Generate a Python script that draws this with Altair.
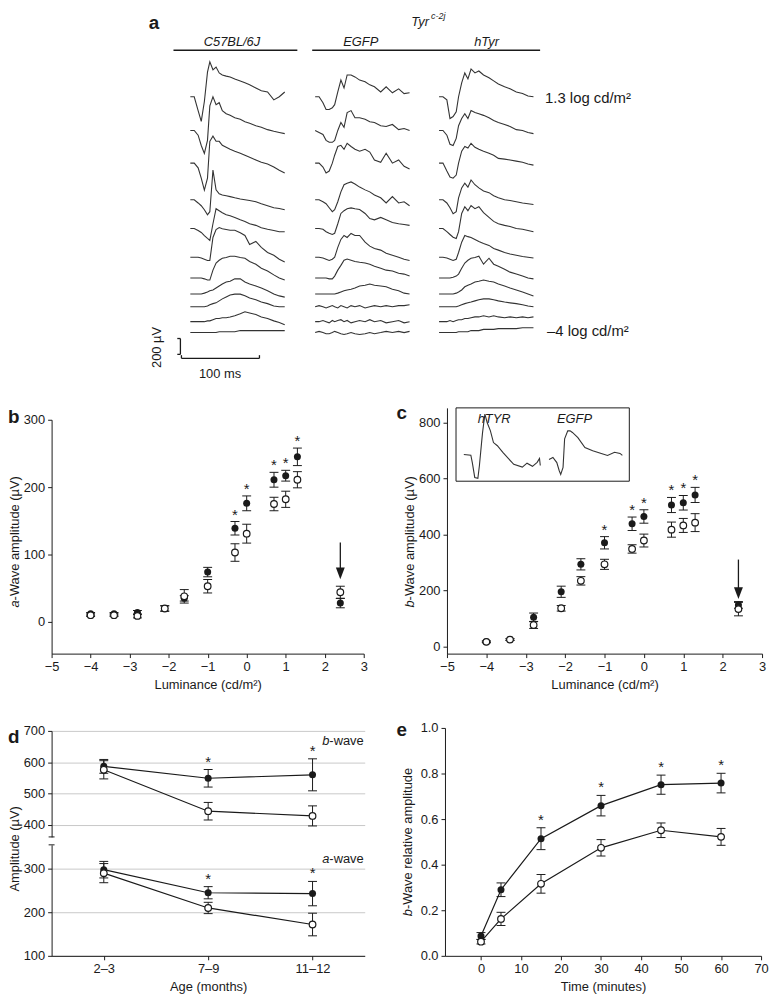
import altair as alt
import pandas as pd

FONT = "Liberation Sans"
INK = "#1a1a1a"

# ---------------- panel a: ERG traces (µV, read on a shared time grid in ms) ----------------
T_MS = [0, 5, 10, 14, 18, 22, 25, 29, 33, 37, 41, 46, 51, 57, 64, 70, 76, 84, 91, 99, 107, 114, 121]
STRAINS = ["C57BL/6J", "EGFP", "hTyr"]
FLASH_LOG = [1.3, 1, 0.7, 0, -0.3, -1, -1.6, -2.1, -2.8, -3.4, -4]
C57_UV = [
    [0, 0, -175, -310, -60, 310, 440, 340, 375, 300, 275, 260, 250, 225, 200, 175, 150, 110, 75, 60, -40, 0, 60],
    [0, 0, -60, -190, -290, -125, 310, 425, 325, 350, 250, 210, 190, 160, 140, 110, 90, 60, 40, 10, -10, -25, -40],
    [0, 0, -60, -190, -340, -190, 275, 340, 275, 275, 225, 200, 175, 150, 125, 100, 75, 40, 10, -10, -50, -90, -125],
    [0, 0, -40, -75, -125, -190, -150, 375, 125, 75, 60, 50, 40, 25, 10, 0, -10, -25, -50, -75, -100, -110, -125],
    [0, 0, -25, -50, -90, -125, -150, 60, 250, 225, 200, 175, 160, 140, 110, 90, 60, 40, 10, -10, -25, -40, -40],
    [0, 0, 0, -10, -25, -40, -40, 250, 350, 375, 360, 350, 340, 340, 310, 275, 160, 200, 125, 60, 25, -25, -60],
    [0, 0, 0, 0, -10, -25, -25, 100, 190, 225, 250, 260, 275, 275, 260, 250, 210, 175, 125, 90, 40, 0, -25],
    [0, 0, 0, 0, 10, 25, 40, 50, 75, 100, 125, 150, 160, 190, 190, 150, 125, 100, 75, 40, 0, -25, -40],
    [0, 0, 0, 0, 0, 10, 25, 40, 50, 75, 100, 125, 150, 160, 160, 140, 110, 90, 60, 40, 10, 0, 0],
    [0, 0, 0, 0, 0, 10, 10, 25, 40, 40, 50, 50, 60, 75, 100, 125, 110, 90, 60, 40, 10, -10, -40],
    [0, 0, 0, 0, 0, 0, 0, 0, 0, 10, 10, 10, 10, 10, 25, 25, 25, 25, 25, 25, 25, 25, 25],
]
EGFP_UV = [
    [0, 0, -75, -160, -160, -140, -100, 60, 210, 110, 275, 275, 250, 210, 190, 150, 125, 60, 125, 50, 100, 40, 50],
    [0, -25, -50, -125, -150, -150, -125, 0, 100, 40, 225, 250, 160, 160, 140, 110, 100, 60, 50, 75, 10, 25, 0],
    [0, 0, -50, -125, -100, 0, 100, 210, 225, 175, 250, 210, 175, 150, 175, 140, 40, 10, 125, 0, 40, -40, -75],
    [0, 0, -25, -50, -100, -150, -125, -25, 100, 190, 210, 225, 200, 160, 125, 100, 60, 25, -40, 40, -40, -25, -75],
    [0, 0, -10, -40, -60, -75, -60, 60, 190, 225, 250, 260, 250, 240, 190, 125, 110, 140, 110, 75, 60, 50, 40],
    [0, 0, -10, -25, -40, -25, 0, 125, 225, 275, 250, 300, 275, 275, 190, 140, 110, 90, 50, 25, 0, -25, -40],
    [0, 0, 0, 0, -10, -10, 25, 100, 160, 225, 240, 225, 210, 200, 190, 175, 150, 125, 100, 90, 60, 50, 25],
    [0, 0, 0, 0, 0, 0, 0, 10, 25, 40, 50, 60, 75, 100, 110, 125, 110, 100, 90, 60, 40, 10, 0],
    [0, 15, 0, -15, 0, 15, 0, -15, 15, 0, -15, 15, 0, 15, -15, 0, 15, 0, 15, 0, 15, 15, 25],
    [0, 0, 15, 0, -15, 15, 0, 15, 25, 0, 15, -15, 0, 15, 0, 25, 0, 15, -15, 0, 15, -15, 0],
    [0, 15, 0, -15, -15, 0, 15, 0, -15, -25, -15, 0, -15, -25, -15, 0, -15, 0, 15, 0, 15, 0, 15],
]
HTYR_UV = [
    [0, 0, -40, -275, -250, -190, 0, 175, 300, 225, 350, 300, 325, 275, 240, 200, 160, 125, 100, 60, 40, 10, 0],
    [0, 0, -60, -175, -190, -100, 60, 150, 210, 150, 250, 225, 210, 190, 160, 125, 100, 75, 50, 10, 0, -25, -40],
    [0, 0, -100, -175, -190, -150, 0, 150, 210, 190, 250, 200, 175, 150, 125, 100, 60, 50, 40, 25, 10, -10, -25],
    [0, 0, -40, -100, -175, -150, 25, 150, 210, 160, 250, 190, 150, 110, 90, 50, 25, 0, -10, -25, -40, -50, -60],
    [0, 0, -40, -75, -110, -125, -40, 190, 275, 225, 290, 250, 275, 200, 140, 90, 60, 40, 25, 0, -10, -25, -40],
    [0, 0, -10, -25, -40, -25, 60, 190, 275, 260, 250, 225, 200, 175, 150, 110, 90, 60, 40, 25, 10, 0, -10],
    [0, 0, 0, 0, 10, 25, 50, 125, 190, 225, 250, 260, 275, 175, 250, 175, 150, 110, 75, 50, 25, 0, -10],
    [0, 0, 0, 0, 0, 10, 25, 50, 90, 110, 125, 150, 160, 175, 160, 150, 125, 100, 75, 50, 25, 0, -25],
    [0, 0, 0, 0, 0, 0, 10, 25, 40, 50, 60, 75, 90, 100, 100, 90, 75, 60, 50, 40, 25, 10, 0],
    [0, 0, 0, 15, 0, 15, 25, 25, 40, 40, 50, 60, 60, 75, 60, 75, 60, 50, 60, 50, 60, 50, 60],
    [0, 0, 0, 0, 0, 0, 10, 10, 10, 10, 25, 25, 25, 40, 40, 40, 50, 50, 50, 50, 60, 60, 60],
]
SCALEBAR_UV = 200
SCALEBAR_MS = 100

# ---------------- panel b / c: luminance response ----------------
LUM = [-4, -3.4, -2.8, -2.1, -1.6, -1, -0.3, 0, 0.7, 1, 1.3, 2.4]
AW_HTYR = [12, 12, 14, 20, 35, 74, 139, 176, 211, 217, 245, 28]
AW_HTYR_SEM = [2, 2, 3, 4, 4, 7, 10, 11, 11, 8, 13, 7]
AW_EGFP = [10, 10, 9, 20, 38, 53, 103, 131, 175, 182, 211, 44]
AW_EGFP_SEM = [2, 2, 3, 4, 10, 10, 13, 14, 10, 12, 12, 9]
AW_SIG = [False, False, False, False, False, False, True, True, True, True, True, False]

BW_HTYR = [17, 25, 105, 196, 294, 371, 439, 465, 506, 514, 542, 149]
BW_HTYR_SEM = [3, 3, 15, 20, 20, 22, 24, 24, 27, 26, 27, 12]
BW_EGFP = [17, 25, 77, 137, 235, 294, 349, 379, 418, 433, 443, 134]
BW_EGFP_SEM = [3, 3, 12, 10, 15, 18, 15, 23, 27, 25, 32, 24]
BW_SIG = [False, False, False, False, False, True, True, True, True, True, True, False]

# inset traces in panel c (ms, µV)
INSET_HTYR_T = [0, 9, 11, 14, 18, 20, 23, 24, 27, 30, 34, 38, 43, 50, 57, 64, 75, 81, 88, 94, 97, 98]
INSET_HTYR_UV = [0, -10, -110, -290, -300, -140, 175, 275, 510, 400, 300, 150, 110, 25, -50, -125, -160, -110, -150, -100, -50, -140]
INSET_EGFP_T = [0, 5, 10, 13, 15, 18, 20, 24, 27, 30, 37, 46, 56, 67, 75, 84, 91, 94]
INSET_EGFP_UV = [0, 25, -40, -140, -190, -100, 260, 360, 360, 340, 275, 150, 110, 75, 50, 90, 75, 50]

# ---------------- panel d: age ----------------
AGE = ["2–3", "7–9", "11–12"]
DB_HTYR = [587, 549, 560]
DB_HTYR_SEM = [22, 28, 51]
DB_EGFP = [576, 444, 429]
DB_EGFP_SEM = [29, 28, 32]
DA_HTYR = [298, 245, 243]
DA_HTYR_SEM = [19, 14, 28]
DA_EGFP = [290, 210, 172]
DA_EGFP_SEM = [22, 13, 26]
D_SIG = [False, True, True]

# ---------------- panel e: recovery ----------------
TIME = [0, 5, 15, 30, 45, 60]
E_HTYR = [0.087, 0.29, 0.514, 0.659, 0.751, 0.758]
E_HTYR_SEM = [0.015, 0.03, 0.048, 0.045, 0.042, 0.043]
E_EGFP = [0.062, 0.162, 0.316, 0.474, 0.551, 0.522]
E_EGFP_SEM = [0.01, 0.029, 0.041, 0.036, 0.032, 0.037]
E_SIG = [False, False, True, True, True, True]

# ================= layout constants =================
A_W, A_H = 717, 399
MS_PX, UV_PX = 1.27, 12.5
COL_START_MS = [177.8, 337.8, 496.6]
ROW_BASE_UV = [-1062.5, -1487.5, -1900, -2362.5, -2725, -3087.5, -3350, -3550, -3712.5, -3900, -4037.5]
B_W, B_H = 315, 236
C_W, C_H = 318, 248
D_W, D_UH, D_LH = 316, 107, 112
E_W, E_H = 319, 230

ONE = pd.DataFrame({"k": [0]})


def txt(text, x, y, size=13, **kw):
    return alt.Chart(ONE).mark_text(text=text, fontSize=size, font=FONT, color=INK, **kw).encode(
        x=alt.value(x), y=alt.value(y))


def stat_df(xs, m1, s1, m2, s2, sig, xname="x"):
    rows = []
    for i, xv in enumerate(xs):
        rows.append({xname: xv, "m": m1[i], "s": s1[i], "g": "hTyr", "sig": bool(sig[i]), "idx": i})
        rows.append({xname: xv, "m": m2[i], "s": s2[i], "g": "EGFP", "sig": False, "idx": i})
    df = pd.DataFrame(rows)
    df["lo"] = df["m"] - df["s"]
    df["hi"] = df["m"] + df["s"]
    return df


def stat_layers(df, X, Y, lines=False, star_dy=-7):
    base = alt.Chart(df)
    out = []
    if lines:
        out.append(base.mark_line(color=INK, strokeWidth=1.2).encode(x=X, y=Y("m"), detail="g:N", order="idx:Q"))
    out.append(base.mark_rule(color=INK, strokeWidth=1).encode(x=X, y=Y("lo"), y2="hi:Q"))
    for f in ("lo", "hi"):
        out.append(base.mark_tick(orient="horizontal", size=9, thickness=1, color=INK, opacity=1).encode(x=X, y=Y(f)))
    out.append(base.transform_filter("datum.g == 'hTyr'").mark_point(
        shape="circle", filled=True, color=INK, size=50, opacity=1).encode(x=X, y=Y("m")))
    out.append(base.transform_filter("datum.g == 'EGFP'").mark_point(
        shape="circle", filled=True, fill="white", stroke=INK, strokeWidth=1.2, size=45, opacity=1).encode(x=X, y=Y("m")))
    out.append(base.transform_filter("datum.sig").mark_text(
        text="*", fontSize=15, dy=star_dy, baseline="middle", color=INK, font=FONT).encode(x=X, y=Y("hi")))
    return out


def rot_title(first, rest, x, y_start, w_first, italic_first=True):
    return [
        txt(first, x, y_start, angle=270, align="left", baseline="middle", fontStyle="italic" if italic_first else "normal"),
        txt(rest, x, y_start - w_first, angle=270, align="left", baseline="middle"),
    ]


TRI = "M-0.75,-1L0.75,-1L0,1Z"

# ================= panel a =================
rows = []
for ci, col in enumerate([C57_UV, EGFP_UV, HTYR_UV]):
    for ri, tr in enumerate(col):
        for i, (t, v) in enumerate(zip(T_MS, tr)):
            rows.append({"trace": f"{STRAINS[ci]} {FLASH_LOG[ri]}", "i": i,
                         "t": COL_START_MS[ci] + t, "v": ROW_BASE_UV[ri] + v})
traces = pd.DataFrame(rows)
ax = alt.X("t:Q", scale=alt.Scale(domain=[0, A_W * MS_PX], nice=False, zero=False), axis=None)
ay = alt.Y("v:Q", scale=alt.Scale(domain=[-A_H * UV_PX, 0], nice=False, zero=False), axis=None)
a_lines = alt.Chart(traces).mark_line(color="#333333", strokeWidth=1.1).encode(
    x=ax, y=ay, detail="trace:N", order="i:Q")

SB_T, SB_V = 165.1, -4112.5   # anchor of scale bar (ms, µV)
SB_H_T, SB_H_V = 166.4, -4362.5
sbar = pd.DataFrame({
    "t": [SB_T, SB_H_T, SB_T - 4, SB_T - 4, SB_H_T, SB_H_T + SCALEBAR_MS],
    "t2": [SB_T, SB_H_T + SCALEBAR_MS, SB_T, SB_T, SB_H_T, SB_H_T + SCALEBAR_MS],
    "v": [SB_V, SB_H_V, SB_V, SB_V - SCALEBAR_UV, SB_H_V, SB_H_V],
    "v2": [SB_V - SCALEBAR_UV, SB_H_V, SB_V, SB_V - SCALEBAR_UV, SB_H_V + 40, SB_H_V + 40],
})
a_bar = alt.Chart(sbar).mark_rule(color=INK, strokeWidth=1.3).encode(x=ax, x2="t2:Q", y=ay, y2="v2:Q")

a_under1 = alt.Chart(ONE).mark_rule(color=INK, strokeWidth=1.5).encode(
    x=alt.value(123), x2=alt.value(248), y=alt.value(38))
a_under2 = alt.Chart(ONE).mark_rule(color=INK, strokeWidth=1.5).encode(
    x=alt.value(263), x2=alt.value(493), y=alt.value(38))

panel_a = alt.layer(
    a_lines, a_bar, a_under1, a_under2,
    txt("a", 98, 17, size=19, fontWeight="bold", align="left", baseline="alphabetic"),
    txt("C57BL/6J", 182, 34, fontStyle="italic", baseline="alphabetic"),
    txt("EGFP", 312, 34, fontStyle="italic", baseline="alphabetic"),
    txt("hTyr", 439, 34, fontStyle="italic", baseline="alphabetic"),
    txt("Tyr", 363, 14, fontStyle="italic", align="left", baseline="alphabetic"),
    txt("c-2j", 383, 7, size=9, fontStyle="italic", align="left", baseline="alphabetic"),
    txt("1.3 log cd/m²", 498, 91, size=15, align="left", baseline="alphabetic"),
    txt("–4 log cd/m²", 500, 326, size=15, align="left", baseline="alphabetic"),
    txt("200 µV", 106, 338, size=13, angle=270, baseline="middle"),
    txt("100 ms", 170, 369, size=13, baseline="alphabetic"),
).properties(width=A_W, height=A_H)

# ================= panel b =================
bdf = stat_df(LUM, AW_HTYR, AW_HTYR_SEM, AW_EGFP, AW_EGFP_SEM, AW_SIG)
BX = alt.X("x:Q", scale=alt.Scale(domain=[-5, 3], nice=False, zero=False),
           axis=alt.Axis(values=list(range(-5, 4)), title="Luminance (cd/m²)", titlePadding=5,
                         labelFlush=False, format="d"))


def BY(f):
    return alt.Y(f"{f}:Q", scale=alt.Scale(domain=[-47, 300], nice=False, zero=False),
                 axis=alt.Axis(values=[0, 100, 200, 300], title=None))


b_arrow = pd.DataFrame({"x": [2.4], "lo": [74], "hi": [118], "m": [72]})
b_layers = stat_layers(bdf, BX, BY) + [
    alt.Chart(b_arrow).mark_rule(color=INK, strokeWidth=1.3).encode(x=BX, y=BY("lo"), y2="hi:Q"),
    alt.Chart(b_arrow).mark_point(shape=TRI, filled=True, color=INK, size=144, opacity=1).encode(x=BX, y=BY("m")),
    txt("b", -44, 3, size=19, fontWeight="bold", align="left", baseline="alphabetic"),
] + rot_title("a", "-Wave amplitude (µV)", -37, 118 + 71.5, 7.2)
panel_b = alt.layer(*b_layers).properties(width=B_W, height=B_H)

# ================= panel c =================
cdf = stat_df(LUM, BW_HTYR, BW_HTYR_SEM, BW_EGFP, BW_EGFP_SEM, BW_SIG)
CX = alt.X("x:Q", scale=alt.Scale(domain=[-5, 3], nice=False, zero=False),
           axis=alt.Axis(values=list(range(-5, 4)), title="Luminance (cd/m²)", titlePadding=5,
                         labelFlush=False, format="d"))


def CY(f):
    return alt.Y(f"{f}:Q", scale=alt.Scale(domain=[-25, 853], nice=False, zero=False),
                 axis=alt.Axis(values=[0, 200, 400, 600, 800], title=None))


c_arrow = pd.DataFrame({"x": [2.4], "lo": [205], "hi": [311], "m": [191]})
inset_box = pd.DataFrame({"x": [-4.77], "x2": [-0.37], "lo": [591], "hi": [853]})
X_PER_PX_C = 8 / C_W
Y_PER_PX_C = 878 / C_H
inset_rows = []
for name, ts, vs, (x0, y0) in [("hTYR", INSET_HTYR_T, INSET_HTYR_UV, (-4.572, 686.6)),
                               ("EGFP", INSET_EGFP_T, INSET_EGFP_UV, (-2.409, 668.9))]:
    for i, (t, v) in enumerate(zip(ts, vs)):
        inset_rows.append({"g": name, "idx": i,
                           "x": x0 + t / MS_PX * X_PER_PX_C,
                           "m": y0 + v / UV_PX * Y_PER_PX_C})
inset = pd.DataFrame(inset_rows)

c_layers = [
    alt.Chart(inset_box).mark_rect(fill="white", fillOpacity=0, stroke=INK, strokeWidth=1).encode(
        x=CX, x2="x2:Q", y=CY("lo"), y2="hi:Q"),
    alt.Chart(inset).mark_line(color="#333333", strokeWidth=1.1).encode(
        x=CX, y=CY("m"), detail="g:N", order="idx:Q"),
] + stat_layers(cdf, CX, CY) + [
    alt.Chart(c_arrow).mark_rule(color=INK, strokeWidth=1.3).encode(x=CX, y=CY("lo"), y2="hi:Q"),
    alt.Chart(c_arrow).mark_point(shape=TRI, filled=True, color=INK, size=144, opacity=1).encode(x=CX, y=CY("m")),
    txt("hTYR", 31, 15, fontStyle="italic", align="left", baseline="alphabetic"),
    txt("EGFP", 111, 15, fontStyle="italic", align="left", baseline="alphabetic"),
    txt("c", -51, 11, size=19, fontWeight="bold", align="left", baseline="alphabetic"),
] + rot_title("b", "-Wave amplitude (µV)", -37, 130 + 71.5, 7.2)
panel_c = alt.layer(*c_layers).properties(width=C_W, height=C_H)

# ================= panel d =================
dbdf = stat_df(AGE, DB_HTYR, DB_HTYR_SEM, DB_EGFP, DB_EGFP_SEM, D_SIG, xname="age")
dadf = stat_df(AGE, DA_HTYR, DA_HTYR_SEM, DA_EGFP, DA_EGFP_SEM, D_SIG, xname="age")
D_XSCALE = alt.Scale(type="point", domain=AGE, padding=0.5)
DX_HID = alt.X("age:N", scale=D_XSCALE, axis=None)
DX = alt.X("age:N", scale=D_XSCALE,
           axis=alt.Axis(title="Age (months)", labelAngle=0, titlePadding=5, domain=True, ticks=True))
GRID = dict(grid=True, gridColor="#c8c8c8", gridWidth=1, title=None)


def DYU(f):
    return alt.Y(f"{f}:Q", scale=alt.Scale(domain=[362, 700], nice=False, zero=False),
                 axis=alt.Axis(values=[400, 500, 600, 700], **GRID))


def DYL(f):
    return alt.Y(f"{f}:Q", scale=alt.Scale(domain=[100, 355], nice=False, zero=False),
                 axis=alt.Axis(values=[100, 200, 300], **GRID))


brk_u = pd.DataFrame({"lo": [362]})
brk_l = pd.DataFrame({"lo": [355]})
d_upper = alt.layer(
    *stat_layers(dbdf, DX_HID, DYU, lines=True, star_dy=-8),
    alt.Chart(brk_u).mark_rule(color=INK, strokeWidth=1).encode(x=alt.value(-3), x2=alt.value(3), y=DYU("lo")),
    txt("d", -44, 12, size=19, fontWeight="bold", align="left", baseline="alphabetic"),
    txt("-wave", 315, 14, align="right", baseline="alphabetic"),
    txt("b", 280.4, 14, align="right", baseline="alphabetic", fontStyle="italic"),
    txt("Amplitude (µV)", -37, 119, angle=270, baseline="middle"),
).properties(width=D_W, height=D_UH)
d_lower = alt.layer(
    *stat_layers(dadf, DX, DYL, lines=True, star_dy=-8),
    alt.Chart(brk_l).mark_rule(color=INK, strokeWidth=1).encode(x=alt.value(-3), x2=alt.value(3), y=DYL("lo")),
    txt("-wave", 315, 18, align="right", baseline="alphabetic"),
    txt("a", 280.4, 18, align="right", baseline="alphabetic", fontStyle="italic"),
).properties(width=D_W, height=D_LH)

# ================= panel e =================
edf = stat_df(TIME, E_HTYR, E_HTYR_SEM, E_EGFP, E_EGFP_SEM, E_SIG)
EX = alt.X("x:Q", scale=alt.Scale(domain=[-9, 70], nice=False, zero=False),
           axis=alt.Axis(values=list(range(0, 71, 10)), title="Time (minutes)", titlePadding=5,
                         labelFlush=False, format="d"))


def EY(f):
    return alt.Y(f"{f}:Q", scale=alt.Scale(domain=[0, 1], nice=False, zero=False),
                 axis=alt.Axis(values=[0, 0.2, 0.4, 0.6, 0.8, 1.0], format=".1f", title=None))


panel_e = alt.layer(
    *stat_layers(edf, EX, EY, lines=True, star_dy=-8),
    txt("e", -49, 8, size=19, fontWeight="bold", align="left", baseline="alphabetic"),
    *rot_title("b", "-Wave relative amplitude", -37, 115 + 75, 7.2),
).properties(width=E_W, height=E_H)


# ================= composition =================
def spacer(h):
    return alt.Chart(ONE).mark_point(opacity=0).encode(
        x=alt.X("k:Q", axis=None), y=alt.Y("k:Q", axis=None)).properties(width=1, height=h)


# with flush bounds, nested compositions take no room of their own, so the
# spacing carries the size of the nested column / row that precedes it
IND = dict(x="independent", y="independent")
left_bc = alt.vconcat(spacer(12), panel_b, spacing=0, bounds="flush").resolve_scale(**IND)
row_bc = alt.hconcat(left_bc, panel_c, spacing=B_W + 84, bounds="flush").resolve_scale(**IND)
d_stack = alt.vconcat(d_upper, d_lower, spacing=8, bounds="flush").resolve_scale(**IND)
left_de = alt.vconcat(spacer(3), d_stack, spacing=0, bounds="flush").resolve_scale(**IND)
row_de = alt.hconcat(left_de, panel_e, spacing=D_W + 81, bounds="flush").resolve_scale(**IND)
rest = alt.vconcat(row_bc, row_de, spacing=C_H + 75, bounds="flush").resolve_scale(**IND)

chart = alt.vconcat(panel_a, rest, spacing=0, bounds="flush").resolve_scale(**IND).properties(
    padding=0, background="white"
).configure_view(stroke=None).configure_axis(
    labelFont=FONT, titleFont=FONT, labelFontSize=13, titleFontSize=13,
    labelColor=INK, titleColor=INK, domainColor=INK, tickColor=INK,
    tickSize=4, labelPadding=3, titleFontWeight="normal", domainWidth=1, tickWidth=1, grid=False
).configure_text(font=FONT, color=INK)

chart.save("out.html", embed_options={"renderer": "svg", "actions": False})
